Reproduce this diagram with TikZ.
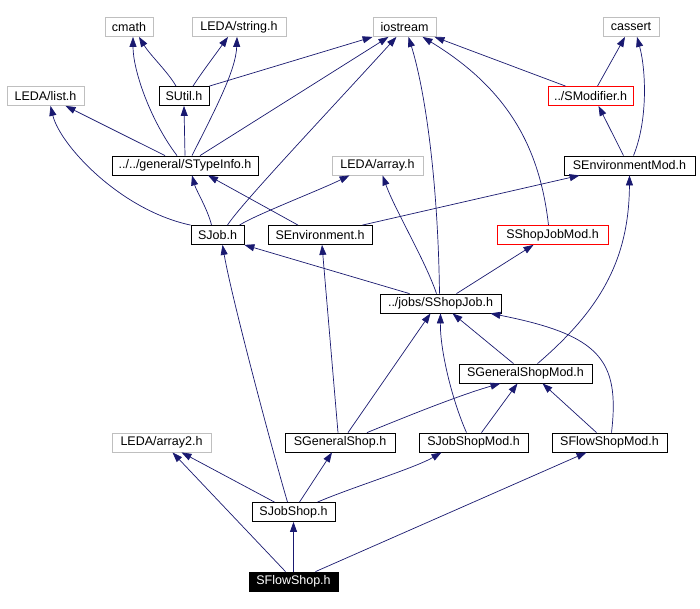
\documentclass[tikz,border=0pt]{standalone}
\usepackage{fontspec}
\setmainfont{Liberation Sans}
\usetikzlibrary{arrows.meta}
\definecolor{edgecol}{HTML}{191970}
\definecolor{graybox}{HTML}{BFBFBF}
\begin{document}
\begin{tikzpicture}[x=1pt,y=-1pt,
  box/.style={draw=black, line width=0.8pt, fill=white, inner sep=0pt, minimum height=19pt, font=\fontsize{12.5}{14}\selectfont, text=black},
  gbox/.style={box, draw=graybox},
  rbox/.style={box, draw=red},
  cur/.style={box, fill=black, text=white},
  e/.style={draw=edgecol, line width=0.7pt, -{Triangle[length=10pt,width=7pt]}}]
\useasboundingbox[fill=white] (0,0) rectangle (700,609);
% row 1
\node[gbox, minimum width=48pt] (cmath) at (129,27) {cmath};
\node[gbox, minimum width=94pt] (string) at (239,27) {LEDA/string.h};
\node[gbox, minimum width=63pt] (iostream) at (404.5,27) {iostream};
\node[gbox, minimum width=56pt] (cassert) at (631,27) {cassert};
% row 2
\node[gbox, minimum width=77pt] (list) at (45.5,96) {LEDA/list.h};
\node[box, minimum width=50pt] (SUtil) at (184,96) {SUtil.h};
\node[rbox, minimum width=85pt] (SMod) at (590.5,96) {../SModifier.h};
% row 3
\node[box, minimum width=146pt] (STI) at (185,165.5) {../../general/STypeInfo.h};
\node[gbox, minimum width=91pt] (array) at (377.5,165.5) {LEDA/array.h};
\node[box, minimum width=131pt] (SEnvMod) at (629.5,165.5) {SEnvironmentMod.h};
% row 4
\node[box, minimum width=53pt] (SJob) at (217.5,235) {SJob.h};
\node[box, minimum width=104pt] (SEnv) at (320,235) {SEnvironment.h};
\node[rbox, minimum width=111pt] (SSJM) at (552.5,235) {SShopJobMod.h};
% row 5
\node[box, minimum width=121pt] (SSJ) at (440.5,303.5) {../jobs/SShopJob.h};
% row 6
\node[box, minimum width=133pt] (SGSM) at (525.5,373.5) {SGeneralShopMod.h};
% row 7
\node[gbox, minimum width=99pt] (array2) at (161.5,442.5) {LEDA/array2.h};
\node[box, minimum width=110pt] (SGS) at (340,442.5) {SGeneralShop.h};
\node[box, minimum width=109pt] (SJSM) at (473.5,442.5) {SJobShopMod.h};
\node[box, minimum width=115pt] (SFSM) at (609.5,442.5) {SFlowShopMod.h};
% row 8
\node[box, minimum width=83pt] (SJS) at (293.5,512) {SJobShop.h};
% row 9
\node[cur, minimum width=89pt] (SFS) at (293.5,581.5) {SFlowShop.h};

% edges
\draw[e] ([xshift=-8pt]SUtil.north) .. controls (168,72) and (150,55) .. ([xshift=10pt]cmath.south);
\draw[e] ([xshift=9pt]SUtil.north) .. controls (200,75) and (215,55) .. ([xshift=-11pt]string.south);
\draw[e] (SUtil.north east) -- (iostream.south west);
\draw[e] ([xshift=-8pt]STI.north) .. controls (150,120) and (133,70) .. ([xshift=4pt]cmath.south);
\draw[e] ([xshift=7pt]STI.north) .. controls (215,110) and (236,70) .. ([xshift=-2pt]string.south);
\draw[e] ([xshift=-20pt]STI.north) -- ([xshift=20pt]list.south);
\draw[e] (STI.north) -- (SUtil.south);
\draw[e] ([xshift=15pt]STI.north) -- ([xshift=-16pt]iostream.south);
\draw[e] (SJob.north west) .. controls (120,210) and (60,145) .. ([xshift=5pt]list.south);
\draw[e] ([xshift=-6pt]SJob.north) .. controls (208,210) and (196,190) .. ([xshift=7pt]STI.south);
\draw[e] ([xshift=10pt]SJob.north) .. controls (240,205) and (330,110) .. ([xshift=-8pt]iostream.south);
\draw[e] ([xshift=22pt]SJob.north) .. controls (255,215) and (320,190) .. ([xshift=-28pt]array.south);
\draw[e] ([xshift=-22pt]SEnv.north) -- ([xshift=23pt]STI.south);
\draw[e] ([xshift=-10pt]SEnv.north east) -- ([xshift=16pt]SEnvMod.south west);
\draw[e] ([xshift=-6pt]SEnvMod.north) -- ([xshift=8pt]SMod.south);
\draw[e] ([xshift=4pt]SEnvMod.north) .. controls (648,120) and (646,70) .. ([xshift=6pt]cassert.south);
\draw[e] ([xshift=7pt]SMod.north) -- ([xshift=-6pt]cassert.south);
\draw[e] ([xshift=-25pt]SMod.north) -- ([xshift=30pt]iostream.south);
\draw[e] ([xshift=-4pt]SSJM.north) .. controls (540,150) and (510,90) .. ([xshift=18pt]iostream.south);
\draw[e] ([xshift=-1pt]SSJ.north) .. controls (438,180) and (425,90) .. ([xshift=4pt]iostream.south);
\draw[e] ([xshift=-4pt]SSJ.north) .. controls (425,260) and (395,210) .. ([xshift=5pt]array.south);
\draw[e] ([xshift=-31pt]SSJ.north) -- (SJob.south east);
\draw[e] ([xshift=16pt]SSJ.north) -- ([xshift=-19pt]SSJM.south);
\draw[e] ([xshift=-12pt]SGSM.north) -- ([xshift=12pt]SSJ.south);
\draw[e] ([xshift=12pt]SGSM.north) .. controls (600,310) and (629,260) .. (SEnvMod.south);
\draw[e] ([xshift=8pt]SGS.north) -- ([xshift=-10pt]SSJ.south);
\draw[e] ([xshift=-2pt]SGS.north) -- ([xshift=2pt]SEnv.south);
\draw[e] ([xshift=27pt]SGS.north) .. controls (410,415) and (460,395) .. ([xshift=-25pt]SGSM.south);
\draw[e] ([xshift=-7pt]SJSM.north) .. controls (452,400) and (440,350) .. (SSJ.south);
\draw[e] ([xshift=8pt]SJSM.north) -- ([xshift=-8pt]SGSM.south);
\draw[e] ([xshift=-13pt]SFSM.north) -- ([xshift=17pt]SGSM.south);
\draw[e] ([xshift=2pt]SFSM.north) .. controls (620,360) and (600,335) .. ([xshift=-11pt]SSJ.south east);
\draw[e] ([xshift=-19pt]SJS.north) -- ([xshift=20pt]array2.south);
\draw[e] ([xshift=-6pt]SJS.north) .. controls (275,460) and (232,300) .. ([xshift=5pt]SJob.south);
\draw[e] ([xshift=6pt]SJS.north) -- ([xshift=-8pt]SGS.south);
\draw[e] ([xshift=24pt]SJS.north) .. controls (350,488) and (415,468) .. ([xshift=-32pt]SJSM.south);
\draw[e] ([xshift=-8pt]SFS.north) -- ([xshift=11pt]array2.south);
\draw[e] (SFS.north) -- (SJS.south);
\draw[e] ([xshift=22pt]SFS.north) -- ([xshift=-23pt]SFSM.south);
\end{tikzpicture}
\end{document}
